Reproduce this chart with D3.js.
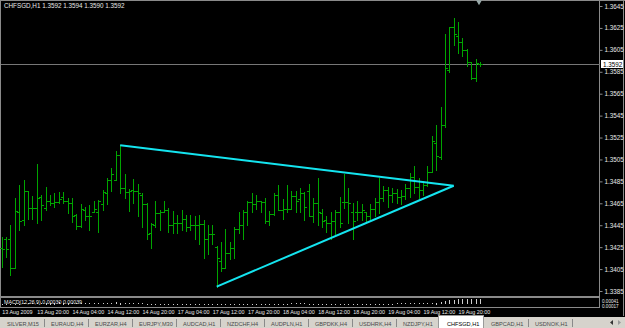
<!DOCTYPE html>
<html>
<head>
<meta charset="utf-8">
<script src="https://cdn.jsdelivr.net/npm/d3@7"></script>
<style>
  html, body { margin: 0; padding: 0; background: #000; }
  svg { display: block; }
  text { font-family: "Liberation Sans", Arial, sans-serif; }
</style>
</head>
<body>
<svg id="chart" width="625" height="328"></svg>
<script>
// CHFSGD H1, 13 Aug 2009 12:00 .. 20 Aug 01:00
const titleText = 'CHFSGD,H1  1.3592 1.3594 1.3590 1.3592'

const opens = [1.3424,1.3432,1.3432,1.3406,1.3457,1.3450,1.3476,1.3461,1.3461,1.3471,
  1.3461,1.3467,1.3465,1.3466,1.3471,1.3467,1.3465,1.3454,1.3444,1.3459,
  1.3453,1.3457,1.3457,1.3464,1.3474,1.3486,1.3486,1.3509,1.3479,1.3475,
  1.3477,1.3476,1.3473,1.3464,1.3438,1.3445,1.3456,1.3457,1.3459,1.3445,
  1.3447,1.3447,1.3451,1.3443,1.3445,1.3445,1.3446,1.3432,1.3437,1.3425,
  1.3412,1.3406,1.3420,1.3424,1.3442,1.3445,1.3457,1.3466,1.3464,1.3467,
  1.3466,1.3449,1.3455,1.3473,1.3459,1.3460,1.3460,1.3472,1.3469,1.3474,
  1.3476,1.3453,1.3465,1.3456,1.3450,1.3447,1.3449,1.3457,1.3466,1.3466,
  1.3457,1.3457,1.3457,1.3457,1.3453,1.3460,1.3466,1.3470,1.3477,1.3473,
  1.3474,1.3471,1.3472,1.3479,1.3489,1.3480,1.3477,1.3482,1.3494,1.3520,
  1.3507,1.3536,1.3587,1.3626,1.3618,1.3612,1.3605,1.3594,1.3579,1.3592]
const highs = [1.3434,1.3434,1.3445,1.3470,1.3482,1.3486,1.3476,1.3472,1.3501,1.3473,
  1.3480,1.3473,1.3474,1.3475,1.3475,1.3470,1.3470,1.3455,1.3464,1.3462,
  1.3463,1.3467,1.3468,1.3477,1.3488,1.3497,1.3513,1.3518,1.3492,1.3478,
  1.3487,1.3483,1.3474,1.3465,1.3447,1.3467,1.3459,1.3467,1.3461,1.3458,
  1.3454,1.3459,1.3454,1.3454,1.3453,1.3454,1.3450,1.3445,1.3445,1.3426,
  1.3430,1.3442,1.3430,1.3443,1.3457,1.3459,1.3467,1.3474,1.3473,1.3467,
  1.3470,1.3458,1.3474,1.3482,1.3469,1.3482,1.3476,1.3476,1.3479,1.3475,
  1.3483,1.3470,1.3488,1.3460,1.3453,1.3457,1.3459,1.3471,1.3492,1.3479,
  1.3465,1.3467,1.3464,1.3457,1.3464,1.3470,1.3488,1.3481,1.3480,1.3479,
  1.3478,1.3477,1.3483,1.3493,1.3499,1.3488,1.3485,1.3499,1.3526,1.3536,
  1.3553,1.3619,1.3626,1.3634,1.3630,1.3616,1.3606,1.3594,1.3597,1.3594]
const lows = [1.3407,1.3416,1.3400,1.3406,1.3441,1.3445,1.3451,1.3451,1.3447,1.3450,
  1.3459,1.3463,1.3462,1.3465,1.3465,1.3456,1.3448,1.3442,1.3443,1.3450,
  1.3441,1.3457,1.3439,1.3459,1.3464,1.3476,1.3486,1.3474,1.3470,1.3458,
  1.3465,1.3453,1.3443,1.3432,1.3424,1.3443,1.3441,1.3457,1.3439,1.3438,
  1.3438,1.3441,1.3440,1.3441,1.3432,1.3428,1.3415,1.3419,1.3428,1.3389,
  1.3403,1.3406,1.3414,1.3415,1.3438,1.3432,1.3445,1.3457,1.3460,1.3457,
  1.3447,1.3445,1.3454,1.3459,1.3451,1.3457,1.3460,1.3457,1.3457,1.3450,
  1.3453,1.3448,1.3445,1.3443,1.3439,1.3432,1.3437,1.3443,1.3461,1.3447,
  1.3432,1.3450,1.3450,1.3448,1.3451,1.3453,1.3456,1.3467,1.3462,1.3466,
  1.3465,1.3464,1.3469,1.3471,1.3474,1.3470,1.3473,1.3481,1.3494,1.3495,
  1.3505,1.3535,1.3585,1.3609,1.3602,1.3599,1.3590,1.3578,1.3577,1.3590]
const closes = [1.3423,1.3423,1.3406,1.3458,1.3449,1.3476,1.3461,1.3461,1.3470,1.3463,
  1.3467,1.3465,1.3466,1.3469,1.3467,1.3465,1.3453,1.3444,1.3460,1.3453,
  1.3453,1.3460,1.3467,1.3475,1.3486,1.3492,1.3509,1.3479,1.3475,1.3476,
  1.3476,1.3474,1.3464,1.3437,1.3446,1.3456,1.3457,1.3459,1.3445,1.3447,
  1.3447,1.3451,1.3443,1.3445,1.3445,1.3446,1.3432,1.3437,1.3437,1.3415,
  1.3406,1.3420,1.3424,1.3442,1.3445,1.3457,1.3466,1.3464,1.3467,1.3466,
  1.3449,1.3455,1.3473,1.3459,1.3460,1.3460,1.3472,1.3467,1.3474,1.3462,
  1.3453,1.3465,1.3457,1.3449,1.3447,1.3449,1.3457,1.3447,1.3466,1.3465,
  1.3449,1.3457,1.3459,1.3453,1.3460,1.3466,1.3470,1.3477,1.3473,1.3474,
  1.3471,1.3472,1.3479,1.3489,1.3480,1.3477,1.3482,1.3494,1.3522,1.3508,
  1.3536,1.3588,1.3626,1.3619,1.3612,1.3605,1.3594,1.3579,1.3593,1.3592]

const timeLabels = ['13 Aug 2009','13 Aug 20:00','14 Aug 04:00','14 Aug 12:00','14 Aug 20:00',
  '17 Aug 04:00','17 Aug 12:00','17 Aug 20:00','18 Aug 04:00','18 Aug 12:00',
  '18 Aug 20:00','19 Aug 04:00','19 Aug 12:00','19 Aug 20:00']
const labelEvery = 8

const priceTicks = [1.3385,1.3405,1.3425,1.3445,1.3465,1.3485,1.3505,
  1.3525,1.3545,1.3565,1.3585,1.3605,1.3625,1.3645]
const lastPrice = 1.3592

// triangle drawn on the chart: [bar index, price]
const upperLine = [[27, 1.3518], [103, 1.3481]]
const lowerLine = [[49, 1.3389], [103, 1.3481]]

const macdTitle = 'MACD(12,26,9) 0.00030 0.00039'
const macdAxisLabels = ['0.00041', '0.00017']

const tabNames = ['SILVER,M15','EURAUD,H4','EURZAR,H4','EURJPY,M30','AUDCAD,H1','NZDCHF,H4',
  'AUDPLN,H1','GBPDKK,H4','USDHRK,H4','NZDJPY,H1','CHFSGD,H1','GBPCAD,H1','USDNOK,H1']
const activeTab = 'CHFSGD,H1'

const barColor = '#00a400'
const lineColor = '#14e4ef'
const frameColor = '#8a8a8a'
const textColor = '#e8e8e8'

const svg = d3.select('#chart')
const W = 625, H = 328
const axisX = 599.5
const mainBottom = 296
const subTop = 298, subBottom = 307

svg.append('rect').attr('width', W).attr('height', H).attr('fill', '#000')

const x = d3.scaleLinear().domain([0, opens.length - 1]).range([1.7, 480])
const y = d3.scaleLinear().domain([1.3385, 1.3645]).range([291, 6])
const px = i => Math.round(x(i)) + 0.5
const py = v => Math.round(y(v)) + 0.5

// frames
let frame = svg.append('g').attr('stroke', frameColor).attr('shape-rendering', 'crispEdges')
frame.append('line').attr('x1', 0).attr('x2', W).attr('y1', 0.5).attr('y2', 0.5)
frame.append('line').attr('x1', 0.5).attr('x2', 0.5).attr('y1', 0).attr('y2', subBottom)
frame.append('line').attr('x1', 623.5).attr('x2', 623.5).attr('y1', 0).attr('y2', 316)
frame.append('line').attr('x1', axisX).attr('x2', axisX).attr('y1', 0).attr('y2', subBottom)
frame.append('line').attr('x1', 0).attr('x2', axisX).attr('y1', mainBottom + 0.5).attr('y2', mainBottom + 0.5)
frame.append('line').attr('x1', 0).attr('x2', axisX).attr('y1', subTop - 0.5).attr('y2', subTop - 0.5)
frame.append('line').attr('x1', 0).attr('x2', axisX).attr('y1', subBottom + 0.5).attr('y2', subBottom + 0.5)

// current price line
svg.append('line')
  .attr('x1', 1).attr('x2', axisX).attr('y1', py(lastPrice)).attr('y2', py(lastPrice))
  .attr('stroke', '#777').attr('shape-rendering', 'crispEdges')

// OHLC bars
let bars = opens.map((o, i) => ({i: i, o: o, h: highs[i], l: lows[i], c: closes[i]}))
let barG = svg.append('g').attr('stroke', barColor).attr('shape-rendering', 'crispEdges')
barG.selectAll('line.hl').data(bars).enter().append('line')
  .attr('class', 'hl')
  .attr('x1', d => px(d.i)).attr('x2', d => px(d.i))
  .attr('y1', d => Math.round(y(d.h))).attr('y2', d => Math.round(y(d.l)) + 1)
barG.selectAll('line.op').data(bars).enter().append('line')
  .attr('class', 'op')
  .attr('x1', d => px(d.i) - 2.5).attr('x2', d => px(d.i))
  .attr('y1', d => py(d.o)).attr('y2', d => py(d.o))
barG.selectAll('line.cl').data(bars).enter().append('line')
  .attr('class', 'cl')
  .attr('x1', d => px(d.i)).attr('x2', d => px(d.i) + 2.5)
  .attr('y1', d => py(d.c)).attr('y2', d => py(d.c))

// triangle
let trend = d3.line().x(d => x(d[0])).y(d => y(d[1]))
svg.selectAll('path.trend').data([upperLine, lowerLine]).enter().append('path')
  .attr('class', 'trend')
  .attr('d', trend)
  .attr('fill', 'none')
  .attr('stroke', lineColor)
  .attr('stroke-width', 2)

// price axis
let yAxis = d3.axisRight(y).tickValues(priceTicks).tickSize(3).tickPadding(2)
  .tickFormat(d3.format('.4f'))
let yAxisG = svg.append('g').attr('transform', 'translate(' + axisX + ',0)').call(yAxis)
yAxisG.select('.domain').remove()
yAxisG.selectAll('line').attr('stroke', frameColor)
yAxisG.selectAll('text').attr('fill', textColor).attr('font-size', 6.3)
  .attr('font-family', '"Liberation Sans", Arial, sans-serif')

// last price box
svg.append('rect').attr('x', 601).attr('y', py(lastPrice) - 4.5).attr('width', 22).attr('height', 8)
  .attr('fill', '#fff')
svg.append('text').attr('x', 603).attr('y', py(lastPrice) + 2.2).attr('font-size', 6.3)
  .attr('fill', '#000').text(d3.format('.4f')(lastPrice))

// shift marker on top
svg.append('path').attr('d', d3.symbol(d3.symbolTriangle, 14)())
  .attr('transform', 'translate(479,2) rotate(180)').attr('fill', '#9aa')

// title
svg.append('text').attr('x', 4).attr('y', 8).attr('font-size', 6.3).attr('fill', textColor)
  .text(titleText)

// MACD subwindow (computed from the closes above)
let ema = (arr, n) => {
  let k = 2 / (n + 1), e = arr[0]
  return arr.map(v => (e = v * k + e * (1 - k)))
}
let ema12 = ema(closes, 12), ema26 = ema(closes, 26)
let macd = ema12.map((v, i) => v - ema26[i])
let yM = d3.scaleLinear().domain(d3.extent(macd)).range([subBottom - 1.5, subTop + 1])
svg.append('g').attr('fill', '#cfcfcf').attr('shape-rendering', 'crispEdges')
  .selectAll('rect').data(macd).enter().append('rect')
  .attr('x', (d, i) => Math.round(x(i)))
  .attr('width', 1)
  .attr('y', d => Math.round(Math.min(yM(0), yM(d))))
  .attr('height', d => Math.max(1, Math.round(Math.abs(yM(0) - yM(d)))))
svg.append('text').attr('x', 4).attr('y', 304).attr('font-size', 5.3).attr('fill', textColor)
  .text(macdTitle)
svg.selectAll('text.macdAxis').data(macdAxisLabels).enter().append('text')
  .attr('class', 'macdAxis')
  .attr('x', 602).attr('y', (d, i) => 302.5 + i * 5).attr('font-size', 4.6).attr('fill', textColor)
  .text(d => d)

// time axis
let xAxis = d3.axisBottom(x)
  .tickValues(timeLabels.map((d, i) => i * labelEvery))
  .tickFormat((d, i) => timeLabels[i])
  .tickSize(0).tickPadding(2)
let xAxisG = svg.append('g').attr('transform', 'translate(0,' + (subBottom + 1) + ')').call(xAxis)
xAxisG.select('.domain').remove()
xAxisG.selectAll('text').attr('fill', textColor).attr('font-size', 5.4)
  .attr('text-anchor', 'start').attr('font-family', '"Liberation Sans", Arial, sans-serif')

// symbol tabs
let tabTop = 317
svg.append('rect').attr('x', 0).attr('y', tabTop).attr('width', W).attr('height', H - tabTop)
  .attr('fill', '#d6d3cc')
let tabW = 44
let tabs = svg.append('g').selectAll('g').data(tabNames).enter().append('g')
  .attr('transform', (d, i) => 'translate(' + (1 + i * tabW) + ',' + tabTop + ')')
tabs.filter(d => d === activeTab).append('rect')
  .attr('x', -3).attr('y', -2).attr('width', tabW + 1).attr('height', H - tabTop + 2)
  .attr('fill', '#fff').attr('stroke', '#9a9a9a').attr('shape-rendering', 'crispEdges')
tabs.filter(d => d !== activeTab).append('line')
  .attr('x1', tabW - 0.5).attr('x2', tabW - 0.5).attr('y1', 2).attr('y2', 10)
  .attr('stroke', '#8a8a8a').attr('shape-rendering', 'crispEdges')
tabs.append('text')
  .attr('x', 6).attr('y', 8.5).attr('font-size', 5.6)
  .attr('fill', d => d === activeTab ? '#000' : '#4a4a4a')
  .text(d => d)

// scroll arrows
svg.append('path').attr('d', 'M610,322.5 L613,320 L613,325 Z').attr('fill', '#333')
svg.append('path').attr('d', 'M621,322.5 L618,320 L618,325 Z').attr('fill', '#999')
</script>
</body>
</html>
